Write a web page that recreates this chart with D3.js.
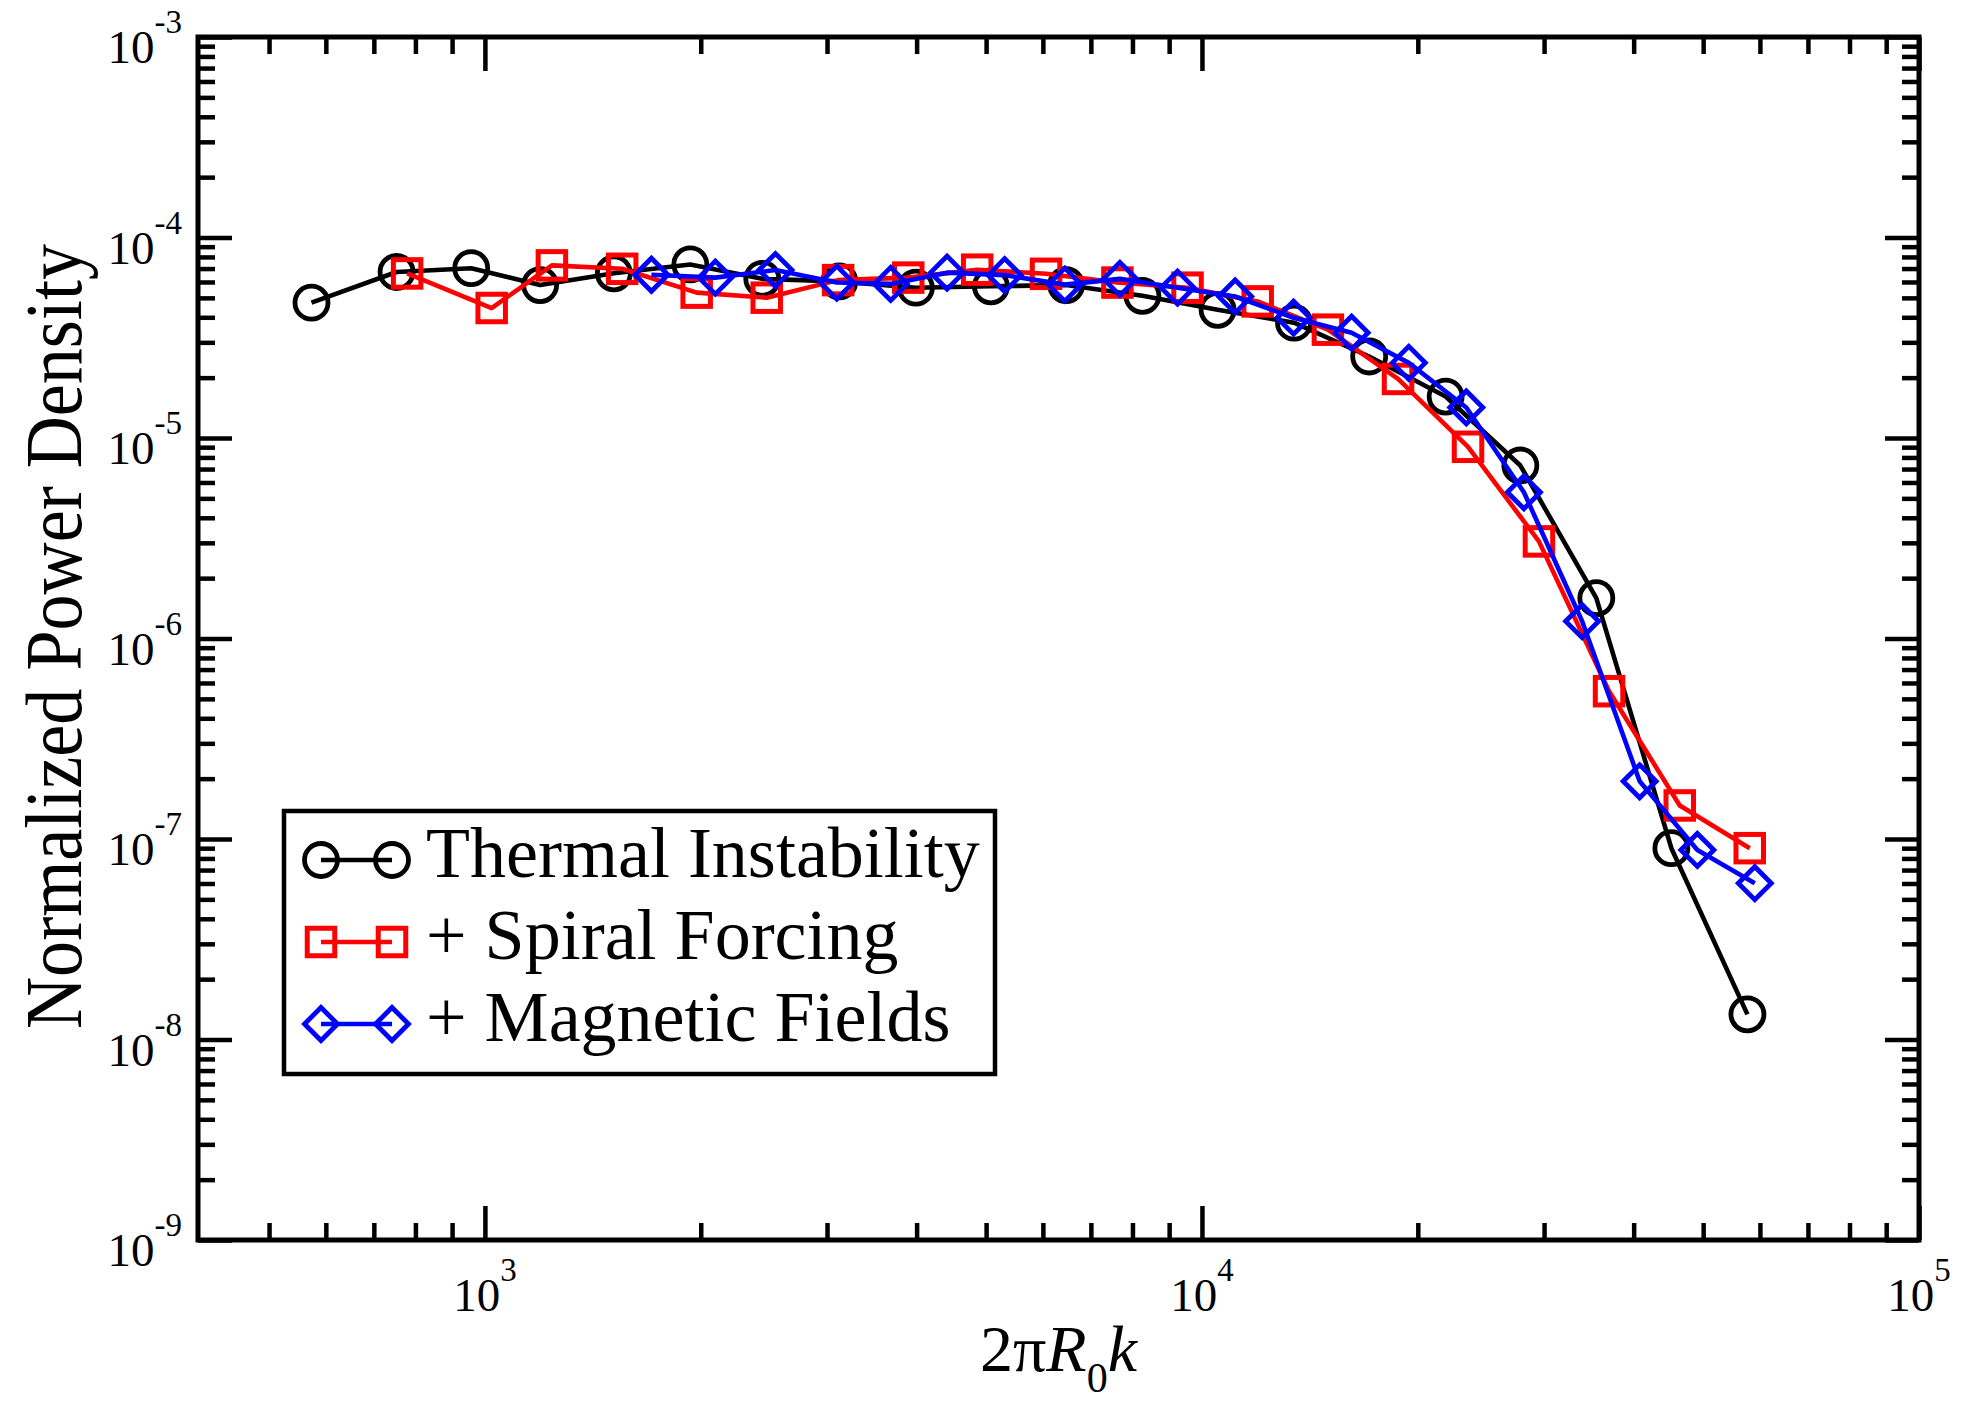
<!DOCTYPE html>
<html><head><meta charset="utf-8">
<script src="https://cdn.jsdelivr.net/npm/d3@7"></script>
<style>
body{margin:0;background:#fff}
svg{display:block}
text{font-family:"Liberation Serif","Times New Roman",Times,serif;fill:#000}
</style>
</head><body>
<svg id="chart" width="1963" height="1405"></svg>
<script>
// ---- data ----
const seriesNames = ["Thermal Instability", "+ Spiral Forcing", "+ Magnetic Fields"];
const seriesColors = ["#000000", "#ff0000", "#0000ff"];
const seriesMarkers = ["circle", "square", "diamond"];

const thermalX = [573, 753, 957, 1194, 1513, 1934, 2437, 3121, 3990, 5078, 6465, 8260, 10515, 13440, 17110, 21870, 27800, 35480, 45150, 57640];
const thermalY = [4.73e-5, 6.73e-5, 7.03e-5, 5.79e-5, 6.63e-5, 7.34e-5, 6.22e-5, 6.04e-5, 5.62e-5, 5.71e-5, 5.79e-5, 5.12e-5, 4.36e-5, 3.76e-5, 2.55e-5, 1.61e-5, 7.29e-6, 1.59e-6, 9.0e-8, 1.335e-8];

const spiralX = [779, 1022, 1240, 1554, 1974, 2472, 3109, 3894, 4859, 6061, 7623, 9548, 11960, 14985, 18770, 23500, 29510, 36960, 46380, 58070];
const spiralY = [6.62e-5, 4.45e-5, 7.26e-5, 6.98e-5, 5.31e-5, 5.01e-5, 6.13e-5, 6.31e-5, 6.91e-5, 6.59e-5, 5.96e-5, 5.62e-5, 4.8e-5, 3.47e-5, 1.97e-5, 9.04e-6, 3.05e-6, 5.46e-7, 1.47e-7, 9.0e-8];

const magneticX = [1707, 2096, 2542, 3096, 3681, 4411, 5307, 6438, 7684, 9246, 11125, 13420, 16170, 19430, 23370, 28120, 33900, 40780, 49080, 59020];
const magneticY = [6.52e-5, 6.31e-5, 6.88e-5, 5.96e-5, 5.87e-5, 6.68e-5, 6.49e-5, 5.82e-5, 6.22e-5, 5.62e-5, 5.08e-5, 3.98e-5, 3.35e-5, 2.37e-5, 1.42e-5, 5.36e-6, 1.22e-6, 1.94e-7, 8.82e-8, 6.02e-8];

const xDomain = [398, 1e5];
const yDomain = [1e-9, 1e-3];
const xMajorTicks = [1e3, 1e4, 1e5];
const xTickExponents = ["3", "4", "5"];
const yMajorTicks = [1e-9, 1e-8, 1e-7, 1e-6, 1e-5, 1e-4, 1e-3];
const yTickExponents = ["-9", "-8", "-7", "-6", "-5", "-4", "-3"];
const xTitle = ["2π", "R", "0", "k"];
const yTitle = "Normalized Power Density";

// ---- layout ----
const L = 198, R = 1919, T = 37, B = 1240;
const svg = d3.select("#chart");

const x = d3.scaleLog().domain(xDomain).range([L, R]);
const y = d3.scaleLog().domain(yDomain).range([B, T]);

const minorX = [];
[1e2, 1e3, 1e4].forEach(d => { for (let m = 2; m <= 9; m++) { const v = d * m; if (v > xDomain[0] * 1.02 && v < xDomain[1]) minorX.push(v); } });
const minorY = [];
[1e-9, 1e-8, 1e-7, 1e-6, 1e-5, 1e-4].forEach(d => { for (let m = 2; m <= 9; m++) minorY.push(d * m); });

const MAJ = 34, MIN = 17;
function axisGroup(axisFn, scale, vals, size, tx, ty) {
  const g = svg.append("g").attr("transform", `translate(${tx},${ty})`)
    .call(axisFn(scale).tickValues(vals).tickSizeInner(-size).tickSizeOuter(0).tickFormat(""));
  g.select(".domain").remove();
  g.selectAll("text").remove();
  g.selectAll(".tick line").attr("stroke", "#000").attr("stroke-width", 4.5);
  return g;
}
axisGroup(d3.axisBottom, x, xMajorTicks, MAJ, 0, B);
axisGroup(d3.axisBottom, x, minorX, MIN, 0, B);
axisGroup(d3.axisTop, x, xMajorTicks, MAJ, 0, T);
axisGroup(d3.axisTop, x, minorX, MIN, 0, T);
axisGroup(d3.axisLeft, y, yMajorTicks, MAJ, L, 0);
axisGroup(d3.axisLeft, y, minorY, MIN, L, 0);
axisGroup(d3.axisRight, y, yMajorTicks, MAJ, R, 0);
axisGroup(d3.axisRight, y, minorY, MIN, R, 0);

// frame
svg.append("rect").attr("x", L).attr("y", T).attr("width", R - L).attr("height", B - T)
  .attr("fill", "none").attr("stroke", "#000").attr("stroke-width", 5);

// tick labels
const TF = 47, SF = 33, SUP = 30;
xMajorTicks.forEach((v, i) => {
  const t = svg.append("text").attr("x", x(v)).attr("y", B + 71).attr("text-anchor", "middle").attr("font-size", TF);
  t.append("tspan").text("10");
  t.append("tspan").attr("font-size", SF).attr("dy", -SUP).text(xTickExponents[i]);
});
yMajorTicks.forEach((v, i) => {
  const t = svg.append("text").attr("x", L - 16).attr("y", y(v) + 26).attr("text-anchor", "end").attr("font-size", TF);
  t.append("tspan").text("10");
  t.append("tspan").attr("font-size", SF).attr("dy", -SUP).text(yTickExponents[i]);
});

// axis titles
const xt = svg.append("text").attr("x", (L + R) / 2).attr("y", 1371).attr("text-anchor", "middle").attr("font-size", 66);
xt.append("tspan").text(xTitle[0]);
xt.append("tspan").attr("font-style", "italic").text(xTitle[1]);
xt.append("tspan").attr("font-size", 42).attr("dy", 21).text(xTitle[2]);
xt.append("tspan").attr("font-style", "italic").attr("dy", -21).text(xTitle[3]);

svg.append("text").attr("transform", `translate(81,636.5) rotate(-90)`)
  .attr("text-anchor", "middle").attr("font-size", 80)
  .attr("textLength", 785).attr("lengthAdjust", "spacingAndGlyphs").text(yTitle);

// series
const series = [
  {xs: thermalX, ys: thermalY},
  {xs: spiralX, ys: spiralY},
  {xs: magneticX, ys: magneticY}
];
const line = d3.line().x(d => x(d[0])).y(d => y(d[1]));

function drawMarker(g, type, cx, cy, color) {
  if (type === "circle") {
    g.append("circle").attr("cx", cx).attr("cy", cy).attr("r", 16.5)
      .attr("fill", "none").attr("stroke", color).attr("stroke-width", 4.8);
  } else if (type === "square") {
    const s = 27.5;
    g.append("rect").attr("x", cx - s / 2).attr("y", cy - s / 2).attr("width", s).attr("height", s)
      .attr("fill", "none").attr("stroke", color).attr("stroke-width", 5);
  } else {
    const h = 16.5;
    g.append("path").attr("d", `M${cx - h},${cy}L${cx},${cy - h}L${cx + h},${cy}L${cx},${cy + h}Z`)
      .attr("fill", "none").attr("stroke", color).attr("stroke-width", 4.8);
  }
}

series.forEach((s, i) => {
  const pts = s.xs.map((v, j) => [v, s.ys[j]]);
  const g = svg.append("g");
  g.append("path").attr("d", line(pts)).attr("fill", "none")
    .attr("stroke", seriesColors[i]).attr("stroke-width", 4.6).attr("stroke-linejoin", "round");
  pts.forEach(p => drawMarker(g, seriesMarkers[i], x(p[0]), y(p[1]), seriesColors[i]));
});

// legend
svg.append("rect").attr("x", 284).attr("y", 811).attr("width", 711).attr("height", 263)
  .attr("fill", "#fff").attr("stroke", "#000").attr("stroke-width", 4.5);
const legRows = [860, 942, 1024];
seriesNames.forEach((name, i) => {
  const cy = legRows[i];
  const g = svg.append("g");
  g.append("line").attr("x1", 321).attr("x2", 392).attr("y1", cy).attr("y2", cy)
    .attr("stroke", seriesColors[i]).attr("stroke-width", 4.6);
  drawMarker(g, seriesMarkers[i], 321, cy, seriesColors[i]);
  drawMarker(g, seriesMarkers[i], 392, cy, seriesColors[i]);
  svg.append("text").attr("x", 426).attr("y", cy + 17).attr("font-size", 72).text(name);
});
</script>
</body></html>
